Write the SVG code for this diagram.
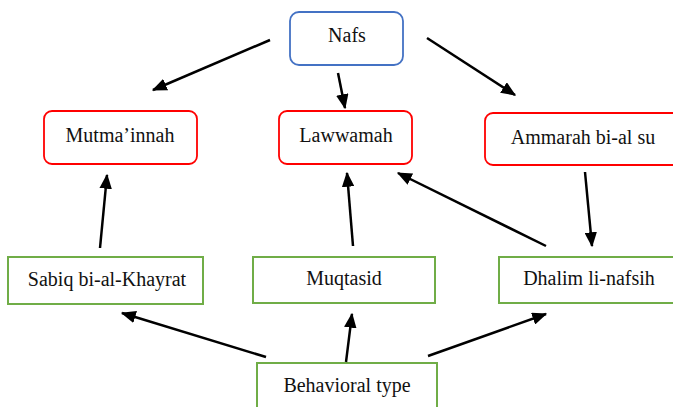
<svg xmlns="http://www.w3.org/2000/svg" width="673" height="407" viewBox="0 0 673 407">
<style>
.lbl{font-family:"Liberation Serif","Times New Roman",serif;font-size:20px;fill:#111;text-anchor:middle}
.blue{fill:#fff;stroke:#4472C4;stroke-width:1.8}
.red{fill:#fff;stroke:#FF0000;stroke-width:1.8}
.green{fill:#fff;stroke:#70AD47;stroke-width:2}
.conn line{stroke:#000;stroke-width:2.5;marker-end:url(#ah)}
</style>
<defs>
<marker id="ah" markerWidth="6" markerHeight="5" refX="5.5" refY="2.5" orient="auto" markerUnits="strokeWidth">
<path d="M0,0 L6,2.5 L0,5 Z" fill="#000"/>
</marker>
</defs>
<rect width="673" height="407" fill="#fff"/>
<g id="nafs"><rect class="blue" x="290" y="12" width="113" height="53" rx="9"/><text class="lbl" x="347" y="42">Nafs</text></g>
<g id="mutmainnah"><rect class="red" x="44" y="111" width="153" height="53" rx="8"/><text class="lbl" x="120" y="142">Mutma’innah</text></g>
<g id="lawwamah"><rect class="red" x="279" y="111" width="133" height="53" rx="8"/><text class="lbl" x="346" y="142">Lawwamah</text></g>
<g id="ammarah"><rect class="red" x="485" y="113" width="200" height="52" rx="8"/><text class="lbl" x="583" y="144">Ammarah bi-al su</text></g>
<g id="sabiq"><rect class="green" x="8" y="257" width="195" height="47"/><text class="lbl" x="107" y="286">Sabiq bi-al-Khayrat</text></g>
<g id="muqtasid"><rect class="green" x="253" y="257" width="182" height="46"/><text class="lbl" x="344" y="285">Muqtasid</text></g>
<g id="dhalim"><rect class="green" x="499" y="257" width="190" height="46"/><text class="lbl" x="589" y="285">Dhalim li-nafsih</text></g>
<g id="behavioral"><rect class="green" x="257" y="363" width="180" height="60"/><text class="lbl" x="347" y="392">Behavioral type</text></g>
<g id="connectors" class="conn">
<line x1="270" y1="40" x2="153" y2="90"/>
<line x1="338" y1="73" x2="345" y2="108"/>
<line x1="427" y1="38" x2="515" y2="95"/>
<line x1="585" y1="172" x2="592" y2="246"/>
<line x1="546" y1="246" x2="398" y2="173"/>
<line x1="353" y1="246" x2="347" y2="173"/>
<line x1="100" y1="248" x2="107" y2="175"/>
<line x1="266" y1="357" x2="122" y2="313"/>
<line x1="346" y1="362" x2="352" y2="314"/>
<line x1="428" y1="356" x2="546" y2="314"/>
</g>
</svg>
